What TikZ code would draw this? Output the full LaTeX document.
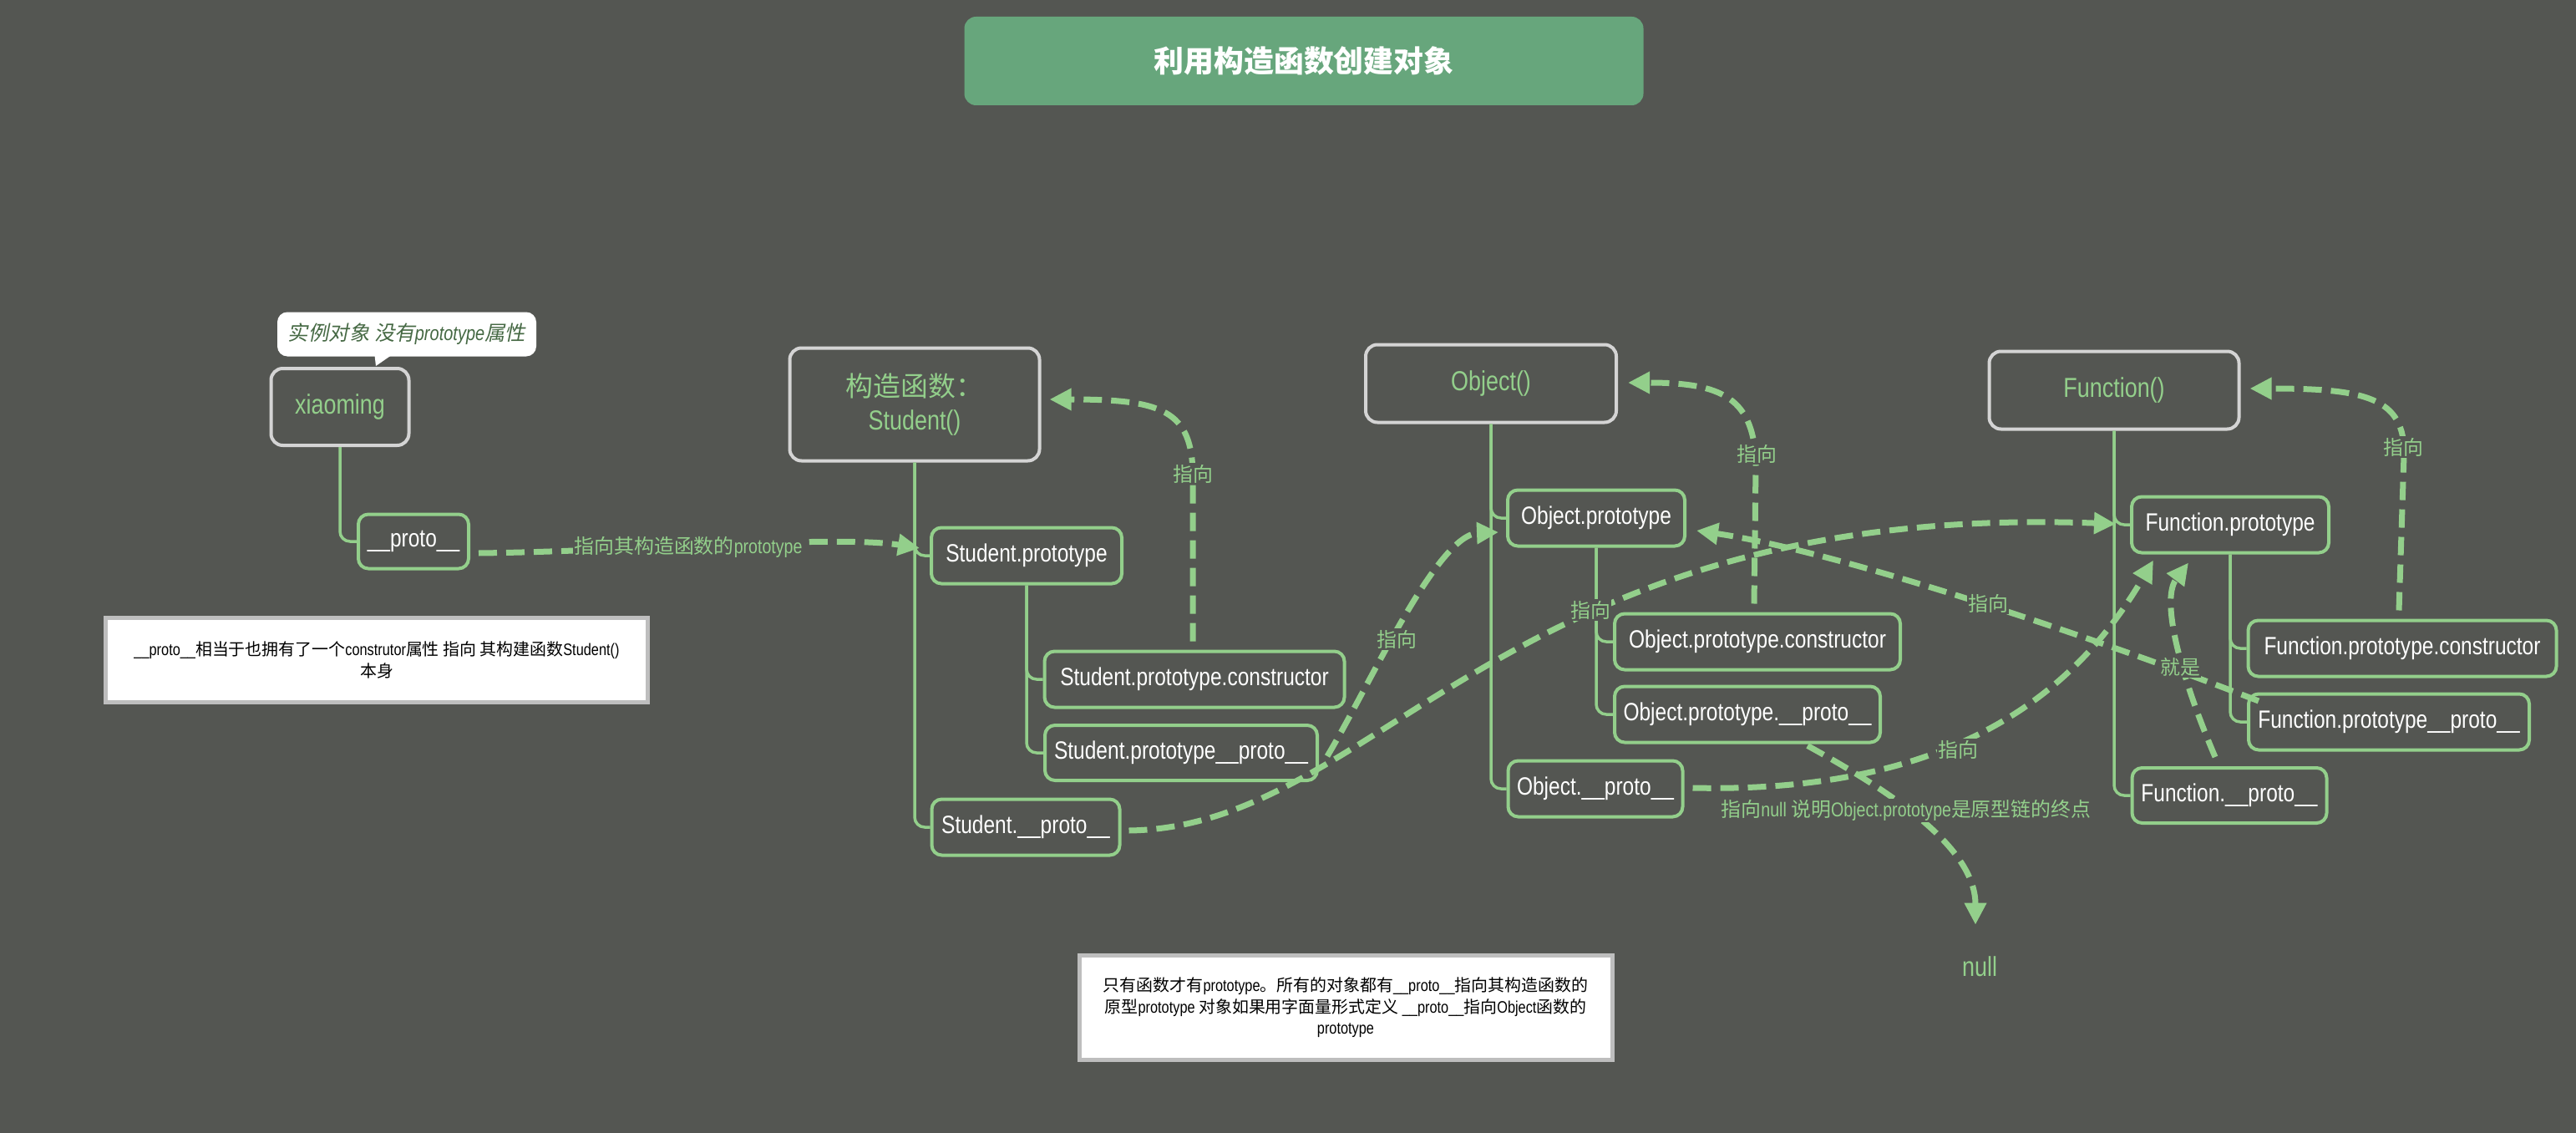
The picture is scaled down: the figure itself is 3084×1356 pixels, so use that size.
\documentclass[tikz,border=0pt]{standalone}
\usepackage{fontspec}
\setmainfont{Liberation Sans}[FakeStretch=0.82]
\newfontfamily\cjk{Noto Sans CJK SC}
\newfontfamily\cjkit{Noto Sans CJK SC}[FakeSlant=0.2]
\usetikzlibrary{arrows.meta}
\definecolor{bg}{RGB}{84,86,82}
\definecolor{lg}{RGB}{147,207,139}
\definecolor{gb}{RGB}{212,212,212}
\definecolor{tg}{RGB}{103,166,124}
\definecolor{cg}{RGB}{70,105,68}
\definecolor{nb}{RGB}{190,190,190}
\newcommand\zh[1]{{\cjk #1}}
\begin{document}
\begin{tikzpicture}[x=1bp,y=-1bp,
  hdr/.style={draw=gb, line width=4bp, rounded corners=14bp, fill=bg, text=lg,
    font=\fontsize{33}{41}\selectfont, align=center, inner sep=0pt},
  box/.style={draw=lg, line width=4bp, rounded corners=12bp, fill=bg, text=white,
    font=\fontsize{30}{36}\selectfont, inner sep=0pt},
  sz/.style n args={2}{minimum width=#1bp, minimum height=#2bp},
  tree/.style={draw=lg, line width=3.5bp, rounded corners=12bp},
  arr/.style={draw=lg, line width=7bp, dash pattern=on 22bp off 11bp,
    -{Triangle[length=26bp,width=25bp]}},
  lab/.style={text=lg, fill=bg, inner sep=1.5bp, font=\fontsize{24}{28}\selectfont},
  note/.style={draw=nb, line width=5bp, fill=white, text=black, align=center,
    font=\fontsize{20}{25.5}\selectfont, inner sep=0pt}
]
\path[use as bounding box, fill=bg] (0,0) rectangle (3084,1356);

% title
\node[fill=tg, rounded corners=14bp, sz={813}{106}, text=white,
  font=\cjk\bfseries\fontsize{36}{40}\selectfont] (title) at (1561,73) {利用构造函数创建对象};

% xiaoming
\node[hdr, sz={165}{92}] (xm) at (407,487) {xiaoming};
\node[fill=white, rounded corners=12bp, sz={310}{53}, inner sep=0pt, text=cg,
  font=\cjkit\fontsize{24.5}{28}\selectfont] (co) at (487,400)
  {实例对象 没有{\itshape\fontspec{Liberation Sans}[FakeStretch=0.82]prototype}属性};
\fill[white] ([shift={(-39,-6)}]co.south) -- ([shift={(-12,-6)}]co.south) -- ([shift={(43,-1)}]xm.north) -- cycle;
\node[box, sz={132}{65}] (xp) at (495,648) {\_\_proto\_\_};
\node[note, sz={648}{101}] (n1) at (451,790)
  {\_\_proto\_\_\zh{相当于也拥有了一个}construtor\zh{属性 指向 其构建函数}Student()\\\zh{本身}};

% Student
\node[hdr, sz={299}{135}] (st) at (1095,484) {\zh{构造函数：}\\Student()};
\node[box, sz={228}{67}] (sp) at (1229,665) {Student.prototype};
\node[box, sz={359}{67}] (spc) at (1430,813) {Student.prototype.constructor};
\node[box, sz={326}{66}] (spp) at (1414,901) {Student.prototype\_\_proto\_\_};
\node[box, sz={225}{67}] (spr) at (1228,990) {Student.\_\_proto\_\_};

% Object
\node[hdr, sz={300}{93}] (ob) at (1785,459) {Object()};
\node[box, sz={212}{67}] (op) at (1911,620) {Object.prototype};
\node[box, sz={342}{67}] (opc) at (2104,768) {Object.prototype.constructor};
\node[box, sz={318}{67}] (opp) at (2092,855) {Object.prototype.\_\_proto\_\_};
\node[box, sz={209}{67}] (opr) at (1910,944) {Object.\_\_proto\_\_};

% Function
\node[hdr, sz={299}{93}] (fn) at (2531,467) {Function()};
\node[box, sz={236}{67}] (fp) at (2670,628) {Function.prototype};
\node[box, sz={369}{67}] (fpc) at (2876,776) {Function.prototype.constructor};
\node[box, sz={336}{67}] (fpp) at (2860,864) {Function.prototype\_\_proto\_\_};
\node[box, sz={233}{66}] (fpr) at (2669,952) {Function.\_\_proto\_\_};

\node[text=lg, inner sep=0pt, font=\fontsize{33}{36}\selectfont] (nul) at (2370,1157) {null};

\node[note, sz={638}{125}] (n2) at (1611,1206)
  {\zh{只有函数才有}prototype\zh{。所有的对象都有}\_\_proto\_\_\zh{指向其构造函数的}\\
   \zh{原型}prototype \zh{对象如果用字面量形式定义} \_\_proto\_\_\zh{指向}Object\zh{函数的}\\
   prototype};

% tree connectors
\draw[tree] (xm.south) |- (xp.west);
\draw[tree] (st.south) |- (sp.west);
\draw[tree] (st.south) |- (spr.west);
\draw[tree] (sp.south) |- (spc.west);
\draw[tree] (sp.south) |- (spp.west);
\draw[tree] (ob.south) |- (op.west);
\draw[tree] (ob.south) |- (opr.west);
\draw[tree] (op.south) |- (opc.west);
\draw[tree] (op.south) |- (opp.west);
\draw[tree] (fn.south) |- (fp.west);
\draw[tree] (fn.south) |- (fpr.west);
\draw[tree] (fp.south) |- (fpc.west);
\draw[tree] (fp.south) |- (fpp.west);

% dashed arrows
\draw[arr] ([shift={(10,14)}]xp.east) .. controls (750,660) and (1000,640) .. ([shift={(-12,-9)}]sp.west);
\draw[arr] ([shift={(-2,-10)}]spc.north) -- (1428,570) .. controls (1428,490) and (1390,478) .. ([shift={(10,-6)}]st.east);
\draw[arr] ([shift={(-4,-10)}]opc.north) -- (2102,560) .. controls (2102,475) and (2060,458) .. ([shift={(12,-1)}]ob.east);
\draw[arr] ([shift={(-4,-10)}]fpc.north) -- (2878,545) .. controls (2880,475) and (2830,465) .. ([shift={(11,-2)}]fn.east);
\draw[arr] ([shift={(10,4)}]spp.east) .. controls (1640,820) and (1720,640) .. ([shift={(-9,17)}]op.west);
\draw[arr] ([shift={(9,4)}]spr.east) .. controls (1650,990) and (1800,600) .. ([shift={(-17,-1)}]fp.west);
\draw[arr] ([shift={(10,-1)}]opr.east) .. controls (2350,950) and (2490,820) .. ([shift={(-92,7)}]fp.south);
\draw[arr] ([shift={(72,2)}]opp.south) .. controls (2250,940) and (2365,1010) .. ([shift={(-5,-38)}]nul.north);
\draw[arr] ([shift={(14,-25)}]fpp.west) .. controls (2500,760) and (2200,660) .. ([shift={(12,15)}]op.east);
\draw[arr] ([shift={(-17,-11)}]fpr.north) .. controls (2615,820) and (2585,720) .. ([shift={(-50,10)}]fp.south);

% labels
\node[lab] (l1) at (824,655) {\zh{指向其构造函数的}prototype};
\node[lab] (l2) at (1428,567) {\zh{指向}};
\node[lab] (l3) at (2103,543) {\zh{指向}};
\node[lab] (l4) at (2877,535) {\zh{指向}};
\node[lab] (l5) at (1672,765) {\zh{指向}};
\node[lab] (l6) at (1904,730) {\zh{指向}};
\node[lab] (l7) at (2344,897) {\zh{指向}};
\node[lab] (l8) at (2282,970) {\zh{指向}null \zh{说明}Object.prototype\zh{是原型链的终点}};
\node[lab] (l9) at (2380,722) {\zh{指向}};
\node[lab] (l10) at (2610,798) {\zh{就是}};
\end{tikzpicture}
\end{document}
